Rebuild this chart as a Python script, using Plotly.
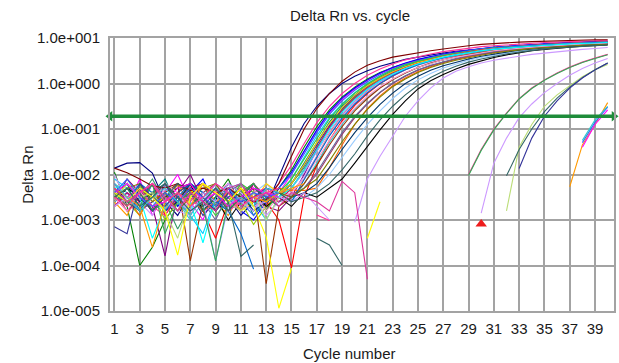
import plotly.graph_objects as go

# ---------------- data (log10 of Delta Rn, per cycle 1..40) ----------------
cycles = list(range(1, 41))
x_ticks = list(range(1, 40, 2))
y_tick_vals = [1e-5, 1e-4, 1e-3, 1e-2, 1e-1, 1e0, 1e1]
y_tick_text = ["1.0e-005", "1.0e-004", "1.0e-003", "1.0e-002", "1.0e-001", "1.0e+000", "1.0e+001"]
threshold = 0.19
call_cycle = [30]
call_value = [8.2e-4]

bundle_log = [
    [-1.86,-1.75,-1.74,-1.97,-2.6,-2.9,-2.4,-2.2,-2.7,-2.5,
     -2.9,-2.6,-2.7,-2.05,-1.4,-0.88,-0.5,-0.22,0.0,0.16,
     0.28,0.38,0.46,0.53,0.58,0.63,0.67,0.71,0.74,0.77,
     0.79,0.81,0.83,0.85,0.87,0.88,0.9,0.91,0.92,0.93],
    [-1.95,-2.7,-4.0,-3.6,-3.0,-2.6,-2.2,-2.8,-2.5,-2.1,
     -2.7,-2.4,-2.8,-2.3,-1.9,-1.4,-0.95,-0.58,-0.3,-0.08,
     0.1,0.24,0.35,0.44,0.52,0.58,0.63,0.68,0.72,0.75,
     0.78,0.8,0.82,0.84,0.86,0.87,0.88,0.89,0.9,0.91],
    [-2.3,-2.7,-2.1,-2.9,-2.4,-2.0,-2.6,-3.0,-2.3,-2.5,
     -2.8,-2.2,-2.7,-2.4,-2.0,-1.5,-1.05,-0.65,-0.35,-0.12,
     0.07,0.22,0.34,0.44,0.52,0.58,0.64,0.69,0.73,0.76,
     0.79,0.81,0.83,0.85,0.87,0.88,0.89,0.9,0.91,0.92],
    [-2.1,-2.3,-2.6,-2.2,-2.8,-2.5,-2.9,-3.3,-2.5,-2.2,
     -2.7,-2.6,-3.0,-2.5,-2.1,-1.62,-1.15,-0.75,-0.44,-0.2,
     0.0,0.16,0.29,0.39,0.48,0.55,0.61,0.66,0.7,0.74,
     0.77,0.8,0.82,0.84,0.86,0.88,0.89,0.9,0.91,0.92],
    [-2.5,-2.2,-2.8,-2.4,-2.1,-2.7,-2.3,-2.2,-2.8,-2.5,
     -2.3,-2.9,-2.6,-2.5,-2.2,-1.75,-1.28,-0.85,-0.5,-0.25,
     -0.04,0.13,0.27,0.38,0.47,0.54,0.6,0.65,0.7,0.73,
     0.76,0.79,0.81,0.83,0.85,0.87,0.88,0.89,0.9,0.91],
    [-2.6,-2.1,-2.4,-2.7,-3.79,-2.4,-2.0,-2.6,-2.3,-2.8,
     -2.5,-2.2,-2.7,-2.8,-2.5,-2.0,-1.45,-0.98,-0.62,-0.34,
     -0.12,0.06,0.21,0.33,0.43,0.51,0.58,0.63,0.68,0.72,
     0.75,0.78,0.8,0.82,0.84,0.86,0.87,0.88,0.89,0.9],
    [-2.2,-2.6,-2.3,-2.8,-2.2,-2.7,-2.4,-2.1,-2.7,-2.3,
     -2.8,-3.0,-2.6,-2.3,-1.95,-1.5,-1.02,-0.62,-0.32,-0.1,
     0.08,0.23,0.35,0.45,0.53,0.59,0.65,0.69,0.73,0.77,
     0.8,0.82,0.84,0.86,0.88,0.89,0.9,0.91,0.92,0.93],
    [-2.7,-2.4,-2.6,-2.2,-2.9,-2.5,-2.3,-2.8,-3.4,-2.6,
     -2.3,-2.7,-2.6,-3.0,-4.05,-2.5,-1.8,-1.25,-0.82,-0.48,
     -0.22,0.0,0.16,0.3,0.41,0.5,0.57,0.63,0.68,0.72,
     0.76,0.79,0.81,0.83,0.85,0.87,0.88,0.89,0.9,0.91],
    [-2.6,-2.9,-2.3,-2.5,-2.8,-2.2,-2.7,-2.4,-2.6,-2.9,
     -2.4,-2.5,-2.7,-2.4,-2.35,-2.1,-1.6,-1.1,-0.7,-0.4,
     -0.16,0.04,0.19,0.32,0.42,0.5,0.57,0.62,0.67,0.71,
     0.75,0.78,0.8,0.82,0.84,0.86,0.87,0.88,0.89,0.9],
    [-2.3,-2.6,-2.9,-2.4,-3.0,-2.6,-2.4,-2.2,-2.7,-2.3,
     -2.6,-3.1,-2.7,-2.5,-2.3,-1.9,-1.42,-0.95,-0.58,-0.3,
     -0.08,0.1,0.24,0.36,0.45,0.53,0.59,0.64,0.69,0.73,
     0.76,0.79,0.81,0.83,0.85,0.87,0.88,0.89,0.9,0.91],
    [-2.5,-2.8,-2.6,-2.2,-2.4,-2.8,-2.2,-2.6,-2.4,-2.8,
     -2.2,-2.5,-2.6,-2.2,-1.8,-1.32,-0.86,-0.5,-0.22,0.0,
     0.18,0.32,0.43,0.52,0.59,0.65,0.7,0.74,0.78,0.81,
     0.83,0.85,0.87,0.89,0.9,0.91,0.92,0.93,0.94,0.95],
    [-2.7,-2.4,-2.6,-2.9,-2.3,-2.6,-2.8,-2.2,-2.6,-2.4,
     -2.8,-2.5,-2.9,-2.6,-2.4,-2.05,-1.6,-1.12,-0.72,-0.42,
     -0.18,0.02,0.17,0.3,0.4,0.48,0.55,0.61,0.66,0.7,
     0.74,0.77,0.8,0.82,0.84,0.86,0.87,0.88,0.89,0.9],
    [-2.2,-2.4,-2.7,-2.4,-2.2,-2.6,-3.0,-2.6,-2.3,-2.4,
     -2.6,-2.8,-2.4,-2.5,-2.6,-2.2,-1.75,-1.3,-0.9,-0.56,
     -0.3,-0.09,0.09,0.23,0.35,0.44,0.52,0.58,0.63,0.68,
     0.72,0.75,0.78,0.8,0.82,0.84,0.85,0.86,0.87,0.88],
    [-2.6,-2.3,-2.5,-2.8,-2.5,-2.3,-2.2,-2.8,-2.5,-3.0,
     -2.6,-2.4,-2.7,-2.5,-2.7,-2.4,-2.5,-2.3,-2.1,-1.75,
     -1.38,-1.02,-0.68,-0.38,-0.12,0.06,0.2,0.32,0.42,0.5,
     0.57,0.63,0.68,0.72,0.75,0.78,0.8,0.82,0.84,0.85],
    [-2.5,-2.7,-2.3,-2.6,-2.4,-2.2,-3.9,-2.6,-2.8,-2.4,
     -2.6,-2.3,-4.4,-2.7,-2.5,-2.2,-1.8,-1.35,-0.95,-0.6,
     -0.33,-0.1,0.08,0.23,0.35,0.45,0.52,0.59,0.64,0.69,
     0.73,0.76,0.79,0.81,0.83,0.85,0.86,0.87,0.88,0.89],
    [-2.3,-2.5,-2.8,-2.6,-2.2,-2.6,-2.4,-2.9,-2.6,-2.2,
     -2.4,-2.7,-2.3,-2.4,-2.2,-1.8,-1.35,-0.92,-0.56,-0.28,
     -0.06,0.12,0.26,0.37,0.46,0.54,0.6,0.65,0.7,0.74,
     0.77,0.8,0.82,0.84,0.86,0.88,0.89,0.9,0.91,0.92],
    [-2.7,-2.5,-2.9,-2.4,-2.6,-2.2,-2.5,-2.8,-2.6,-2.4,
     -2.2,-2.6,-2.4,-2.3,-2.35,-2.35,-2.3,-1.85,-1.35,-0.9,
     -0.55,-0.27,-0.05,0.12,0.26,0.37,0.46,0.53,0.59,0.64,
     0.68,0.72,0.75,0.78,0.8,0.82,0.84,0.85,0.86,0.87],
    [-2.5,-2.2,-2.5,-2.1,-2.6,-3.2,-2.7,-2.4,-2.6,-2.8,
     -2.4,-2.2,-2.6,-2.4,-2.2,-1.85,-1.4,-0.98,-0.62,-0.34,
     -0.12,0.06,0.2,0.32,0.42,0.5,0.57,0.62,0.67,0.71,
     0.75,0.78,0.8,0.82,0.84,0.86,0.87,0.88,0.89,0.9],
    [-2.4,-2.8,-2.5,-2.2,-2.5,-2.6,-2.9,-2.4,-2.2,-2.6,
     -2.8,-2.4,-2.6,-2.3,-2.5,-2.3,-2.0,-1.55,-1.12,-0.75,
     -0.45,-0.2,0.0,0.16,0.29,0.39,0.47,0.54,0.6,0.65,
     0.69,0.73,0.76,0.79,0.81,0.83,0.85,0.86,0.87,0.88],
    [-2.3,-2.5,-2.2,-2.6,-2.8,-2.4,-2.6,-2.2,-2.4,-2.8,
     -2.6,-2.4,-2.2,-2.5,-2.4,-2.5,-2.3,-2.0,-1.62,-1.25,
     -0.9,-0.6,-0.33,-0.1,0.08,0.22,0.34,0.43,0.51,0.57,
     0.62,0.67,0.71,0.74,0.77,0.8,0.82,0.84,0.85,0.86],
    [-2.6,-2.4,-2.8,-2.2,-2.6,-2.4,-2.8,-2.6,-2.2,-2.4,
     -2.6,-2.9,-2.5,-2.3,-2.0,-1.55,-1.08,-0.68,-0.38,-0.15,
     0.04,0.19,0.32,0.42,0.5,0.57,0.63,0.68,0.72,0.76,
     0.79,0.81,0.83,0.85,0.87,0.88,0.89,0.9,0.91,0.92],
    [-2.4,-2.7,-2.2,-2.8,-2.4,-2.6,-2.2,-2.5,-2.9,-2.6,
     -2.2,-2.4,-2.8,-2.4,-2.1,-1.65,-1.2,-0.78,-0.46,-0.21,
     -0.01,0.16,0.3,0.41,0.49,0.56,0.62,0.67,0.71,0.75,
     0.78,0.8,0.82,0.84,0.86,0.87,0.88,0.89,0.9,0.91],
    [-2.7,-2.4,-2.6,-2.2,-2.8,-2.6,-2.3,-2.2,-2.6,-2.4,
     -2.8,-2.2,-2.5,-2.6,-2.3,-1.9,-1.42,-0.96,-0.6,-0.32,
     -0.1,0.08,0.23,0.35,0.45,0.53,0.6,0.65,0.7,0.74,
     0.77,0.8,0.82,0.84,0.86,0.88,0.89,0.9,0.91,0.92],
    [-2.3,-2.6,-2.4,-2.8,-2.6,-2.2,-2.4,-2.6,-3.0,-2.4,
     -2.2,-2.6,-2.4,-2.6,-2.5,-2.3,-1.95,-1.5,-1.08,-0.72,
     -0.43,-0.19,0.01,0.17,0.3,0.4,0.48,0.55,0.61,0.66,
     0.7,0.74,0.77,0.79,0.81,0.83,0.85,0.86,0.87,0.88],
    [-2.5,-2.2,-2.4,-2.7,-2.5,-2.8,-2.4,-2.2,-2.6,-2.4,
     -2.8,-2.6,-2.2,-2.4,-2.2,-1.78,-1.3,-0.88,-0.53,-0.26,
     -0.05,0.12,0.26,0.37,0.46,0.53,0.59,0.64,0.69,0.73,
     0.76,0.79,0.81,0.83,0.85,0.87,0.88,0.89,0.9,0.91],
    [-2.4,-2.2,-2.6,-2.4,-2.8,-2.6,-2.2,-2.4,-2.6,-2.2,
     -2.4,-2.8,-2.6,-2.4,-2.5,-2.4,-2.2,-1.85,-1.45,-1.08,
     -0.75,-0.46,-0.21,0.0,0.16,0.29,0.39,0.47,0.54,0.6,
     0.65,0.69,0.73,0.76,0.78,0.8,0.82,0.84,0.85,0.86],
    [-2.7,-2.5,-2.4,-2.2,-2.6,-2.8,-2.4,-2.6,-3.9,-2.7,
     -2.4,-2.6,-2.3,-2.4,-2.3,-1.95,-1.5,-1.05,-0.68,-0.38,
     -0.14,0.05,0.2,0.33,0.43,0.51,0.58,0.63,0.68,0.72,
     0.76,0.79,0.81,0.83,0.85,0.87,0.88,0.89,0.9,0.91],
    [-2.5,-2.8,-2.4,-2.6,-2.2,-2.4,-2.8,-2.6,-2.4,-2.2,
     -2.6,-2.4,-2.8,-2.5,-2.4,-2.1,-1.68,-1.25,-0.86,-0.54,
     -0.28,-0.07,0.1,0.24,0.35,0.44,0.52,0.58,0.63,0.68,
     0.72,0.75,0.78,0.8,0.82,0.84,0.86,0.87,0.88,0.89],
    [-2.4,-2.6,-2.2,-2.4,-2.8,-2.5,-2.2,-2.4,-2.6,-2.8,
     -3.3,-4.08,None,None,-2.6,-2.1,-1.62,-1.15,-0.76,-0.45,
     -0.2,0.0,0.17,0.3,0.41,0.5,0.57,0.63,0.68,0.72,
     0.76,0.79,0.81,0.83,0.85,0.87,0.88,0.89,0.9,0.91],
    [-2.7,-2.5,-2.4,-2.2,-2.6,-2.4,-2.8,-2.6,-2.2,-2.4,
     -2.6,-2.8,-2.4,-2.5,-2.6,-2.4,-2.7,-3.0,None,-3.05,
     -2.1,-1.6,-1.15,-0.72,-0.38,-0.1,0.12,0.27,0.37,0.45,
     0.51,0.56,0.6,0.64,0.67,0.7,0.73,0.75,0.77,0.79],
    [-2.3,-2.2,-2.5,-3.4,-2.7,-2.4,-2.6,-3.5,-2.5,-2.3,
     -2.2,-2.6,-2.4,-2.5,-2.3,-1.9,-1.45,-1.0,-0.63,-0.35,
     -0.12,0.06,0.21,0.33,0.43,0.51,0.58,0.63,0.68,0.72,
     0.75,0.78,0.8,0.82,0.84,0.86,0.87,0.88,0.89,0.9],
    [-2.5,-2.3,-2.2,-2.6,-2.4,-2.8,-2.5,-2.3,-2.2,-2.6,
     -2.4,-2.2,-2.6,-2.4,-2.5,-2.3,-2.1,-1.7,-1.28,-0.9,
     -0.57,-0.3,-0.07,0.1,0.24,0.35,0.44,0.51,0.57,0.62,
     0.67,0.71,0.74,0.77,0.79,0.81,0.83,0.84,0.85,0.86],
    [-2.4,-2.6,-2.8,-2.4,-2.2,-2.6,-2.4,-2.8,-2.5,-2.3,
     -2.5,-2.2,-2.6,-2.4,-2.6,-2.5,-2.4,-2.2,-1.9,-1.55,
     -1.15,-0.8,-0.5,-0.25,-0.04,0.13,0.27,0.38,0.47,0.54,
     0.6,0.65,0.69,0.73,0.76,0.78,0.8,0.82,0.84,0.85],
    [-1.86,-1.96,-2.1,-2.25,-2.3,-2.2,-2.35,-2.3,-2.4,-2.3,
     -2.5,-2.6,-2.55,-2.2,-1.6,-1.0,-0.55,-0.22,0.05,0.25,
     0.4,0.5,0.58,0.63,0.67,0.72,0.76,0.8,0.83,0.86,
     0.88,0.9,0.91,0.92,0.93,0.94,0.95,0.95,0.96,0.96],
]
bundle_colors = [
    "#000080", "#008000", "#FF00FF", "#00CCFF", "#008080", "#800080", "#0000FF",
    "#FF0000", "#FF9900", "#99CC00", "#FF3399", "#CC99FF", "#33CCCC", "#000000",
    "#993300", "#333399", "#FF6600", "#339966", "#993366", "#99CCFF", "#3366FF",
    "#33CC33", "#CC0066", "#666699", "#FFCC00", "#003366", "#9999FF", "#FF99CC",
    "#0066CC", "#CC99FF", "#00FFFF", "#808000", "#336666", "#800000",
]

# late-rising wells: early baseline, then a gap, then the rise from late_start
late_baseline = [
    [-2.2,-2.5,-2.3,-2.7,-2.9,-2.4,-2.6,-2.2,-2.4,-2.8,-2.6,-2.4,-2.3,-2.6],
    [-2.5,-2.3,-2.7,-2.2,-3.3,-2.6,-2.4,-2.7,-3.9,-2.6,-2.4,-2.2,-2.6,-2.4],
    [-2.0,-2.6,-2.4,-2.2,-2.5,-2.8,-2.9,-2.4,-2.6,-2.2,-2.4,-2.7,-2.6,-2.4],
    [-2.6,-2.2,-2.5,-2.4,-2.8,-3.4,-2.5,-2.2,-2.4,-2.6,-2.8,-2.4,-3.0,-2.5],
    [-2.3,-2.6,-2.4,-2.8,-2.5,-2.2,-2.4,-2.7,-2.4,-2.8,-2.5,-2.3,-2.5,-2.7],
    [-3.15,-3.3,-2.2,-2.5,-2.7,-2.4,-2.2,-2.5,-2.8,-2.4,-2.6,-2.5,-2.3,-2.4],
    [-2.3,-2.5,-2.7,-3.6,-2.6,-2.4,-2.7,-2.2,-2.4,-2.6,-2.3,-2.5,-2.6,-2.4,-2.3,-2.2],
    [-2.4,-2.2,-2.5,-2.7,-2.6,-2.3,-2.2,-2.6,-2.4,-2.7,-2.5,-2.3,-2.4,-2.5],
    [-2.4,-2.1,-2.5,-2.7,-2.4,-2.6,-2.3,-2.5,-2.7,-2.3,-2.6,-2.4,-2.5,-2.4],
    [-2.2,-2.5,-2.8,-2.5,-2.3,-2.6,-2.9,-2.5,-2.3,-2.6,-2.5,-2.7,-2.3,-2.4],
]
late_start = [29, 29, 30, 32, 32, 33, 37, 38, 38, 38]
late_rise = [
    [-2.0,-1.45,-1.0,-0.65,-0.33,-0.1,0.08,0.23,0.36,0.47,0.56,0.64],
    [-2.02,-1.47,-1.02,-0.66,-0.34,-0.11,0.07,0.22,0.35,0.46,0.55,0.63],
    [-2.85,-1.75,-1.2,-0.75,-0.45,-0.2,0.0,0.18,0.33,0.45,0.55],
    [-2.8,-1.4,-0.9,-0.5,-0.25,-0.05,0.15,0.3,0.42],
    [-2.03,-1.45,-1.0,-0.62,-0.32,-0.08,0.13,0.3,0.45],
    [-1.87,-1.2,-0.72,-0.38,-0.1,0.12,0.3,0.45],
    [-2.27,-1.35,-0.9,-0.42],
    [-1.4,-0.9,-0.58],
    [-1.3,-0.85,-0.52],
    [-1.25,-0.8,-0.5],
]
late_colors = ["#FF3399", "#33AA55", "#CC99FF", "#BBDD77", "#336666",
               "#333399", "#FF9900", "#FF00FF", "#3366FF", "#33CCCC"]

# noise-only wells: (first cycle, values) segments
noise_segments = [
    [(1, [-2.4,-2.6,-2.3,-2.5,-2.8,-3.77,-2.5,-2.2,-2.4,-2.6,-2.3,-2.7,-3.37,-4.94,-4.06]),
     (21, [-3.4,-2.6])],
    [(1, [-2.5,-2.3,-2.7,-2.5,-2.2,-2.5,-2.8,-2.6,-2.3,-2.6,-3.8,-3.55]),
     (17, [-3.4,-3.55,-4.0])],
    [(1, [-2.3,-2.6,-2.4,-2.2,-2.5,-2.8,-2.4,-2.6,-2.8,-2.3,-2.2,-2.6,-2.4,-2.7,
          -2.4,-2.5,-2.6,-2.8,-2.15,-2.4,-4.3])],
    [(1, [-2.5,-2.7,-2.4,-2.2,-2.6,-2.4,-2.7,-2.5,-2.2,-2.4,-2.7,-2.5,-2.4,-2.3]),
     (17, [-2.89,-3.01])],
]
noise_colors = ["#FFFF00", "#336666", "#DD3399", "#FF3399"]


def to_value(v):
    return None if v is None else 10 ** v


fig = go.Figure()

for vals, col in zip(bundle_log, bundle_colors):
    fig.add_trace(go.Scatter(x=cycles[:len(vals)], y=[to_value(v) for v in vals],
                             mode="lines", line=dict(color=col, width=1.1)))

for base, start, rise, col in zip(late_baseline, late_start, late_rise, late_colors):
    xs = cycles[:len(base)] + [None] + list(range(start, start + len(rise)))
    ys = [to_value(v) for v in base] + [None] + [to_value(v) for v in rise]
    fig.add_trace(go.Scatter(x=xs, y=ys, mode="lines", line=dict(color=col, width=1.1)))

for segs, col in zip(noise_segments, noise_colors):
    xs, ys = [], []
    for start, vals in segs:
        if xs:
            xs.append(None); ys.append(None)
        xs += list(range(start, start + len(vals)))
        ys += [to_value(v) for v in vals]
    fig.add_trace(go.Scatter(x=xs, y=ys, mode="lines", line=dict(color=col, width=1.1)))

x_range = [0.65, 40.5]

# threshold line with arrow heads
fig.add_trace(go.Scatter(
    x=x_range, y=[threshold, threshold], mode="lines+markers",
    line=dict(color="#1E8C3A", width=3.5),
    marker=dict(symbol=["triangle-left", "triangle-right"], size=9, color="#1E8C3A"),
    cliponaxis=False))

# call marker
fig.add_trace(go.Scatter(x=call_cycle, y=call_value, mode="markers",
                         marker=dict(symbol="triangle-up", size=10, color="#EE1C1C")))

font_family = "Liberation Sans, Arial, sans-serif"
grid = "#A3A3A3"
txt = "#1a1a1a"

fig.update_layout(
    width=619, height=363,
    margin=dict(l=110, r=3, t=38, b=52),
    paper_bgcolor="white", plot_bgcolor="white",
    showlegend=False, hovermode=False,
    font=dict(family=font_family, size=15, color=txt),
    title=dict(text="Delta Rn vs. cycle", x=350 / 619, xanchor="center",
               y=1 - 16 / 363, yanchor="middle", font=dict(size=15, color=txt)),
)
fig.update_xaxes(range=x_range, tickvals=x_ticks, showgrid=True, gridcolor=grid, gridwidth=1.6,
                 showline=True, linecolor=grid, linewidth=2, mirror=True, zeroline=False,
                 ticks="", ticklabelstandoff=3, tickfont=dict(size=15))
fig.update_yaxes(type="log", range=[-5, 1], tickvals=y_tick_vals, ticktext=y_tick_text,
                 showgrid=True, gridcolor=grid, gridwidth=1.6,
                 showline=True, linecolor=grid, linewidth=2, mirror=True, zeroline=False,
                 ticks="", ticklabelstandoff=5, tickfont=dict(size=15))

fig.add_annotation(text="Delta Rn", xref="paper", yref="paper", x=(27 - 110) / 506, y=0.5,
                   xanchor="center", yanchor="middle",
                   textangle=-90, showarrow=False, font=dict(size=15, color=txt))
fig.add_annotation(text="Cycle number", xref="paper", yref="paper", x=(350 - 110) / 506,
                   y=-(353 - 311) / 273, xanchor="center", yanchor="middle", showarrow=False,
                   font=dict(size=15, color=txt))

fig.write_html("out.html")
